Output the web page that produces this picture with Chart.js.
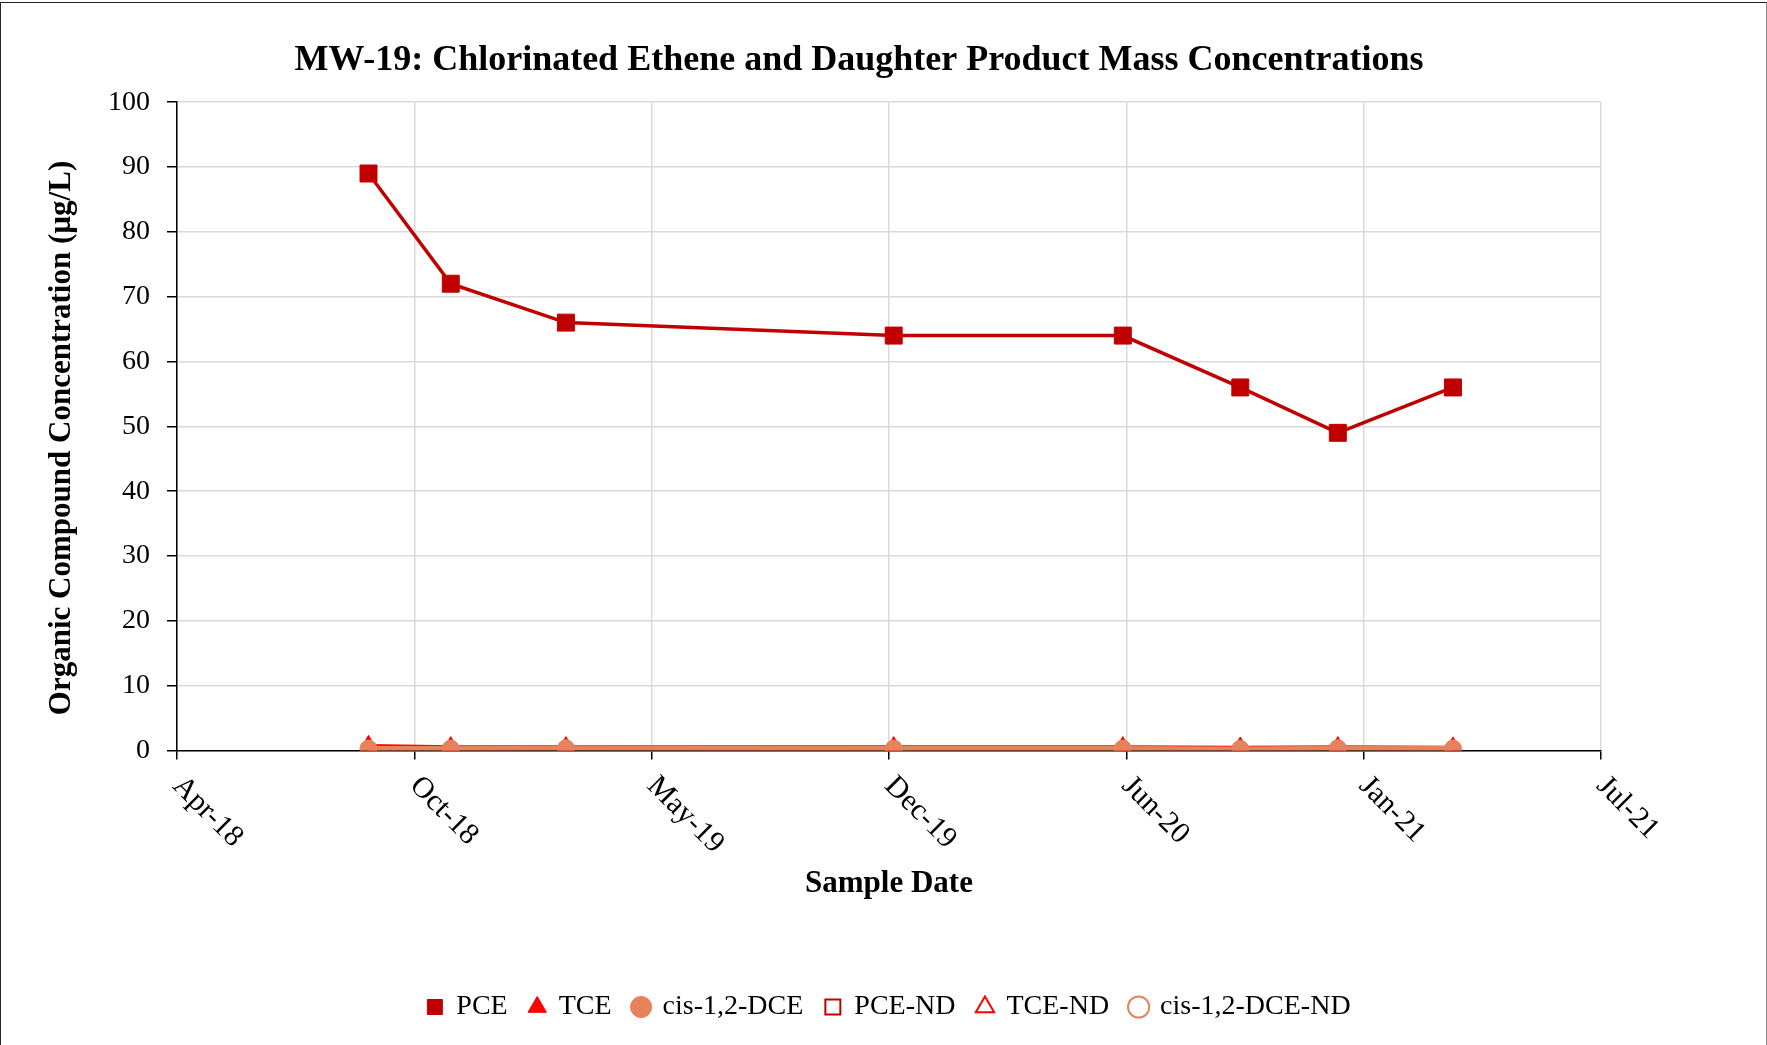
<!DOCTYPE html>
<html>
<head>
<meta charset="utf-8">
<script src="https://cdn.jsdelivr.net/npm/chart.js@4.4.1/dist/chart.umd.min.js"></script>
<style>
html, body { margin: 0; padding: 0; background: #fff; overflow: hidden; }
#frame { position: absolute; left: 0; top: 2px; width: 1767px; height: 1100px; box-sizing: border-box;
         border-left: 1.5px solid #222; border-top: 1.5px solid #222; border-right: 1.5px solid #888; }
#chart { position: absolute; left: 0; top: 0; }
</style>
</head>
<body>
<div id="frame"></div>
<canvas id="chart" width="1767" height="1045"></canvas>
<script>
// sample dates
const sampleDates = ['2018-09-15', '2018-11-24', '2019-03-02', '2019-12-06',
                     '2020-06-18', '2020-09-26', '2020-12-18', '2021-03-26'];
// concentrations, ug/L
const pce    = [89, 72, 66, 64, 64, 56, 49, 56];
const tce    = [0.8, 0.6, 0.6, 0.6, 0.6, 0.55, 0.6, 0.55];
const cisDce = [0.3, 0.3, 0.35, 0.3, 0.3, 0.25, 0.35, 0.3];
// non-detects: nothing plotted
const pceND = [];
const tceND = [];
const cisDceND = [];

// axis set-up (Excel style date axis)
const xAxisStart = '2018-04-05';
const xAxisStepDays = 202;
const xAxisSteps = 6;
const yMin = 0, yMax = 100, yStep = 10;

const months = ['Jan','Feb','Mar','Apr','May','Jun','Jul','Aug','Sep','Oct','Nov','Dec'];
const toDay = s => Date.parse(s + 'T00:00:00Z') / 864e5;
const fmtDay = d => {
    const dt = new Date(Math.round(d) * 864e5);
    return months[dt.getUTCMonth()] + '-' + String(dt.getUTCFullYear()).slice(2);
};
const pts = vals => vals.map((v, i) => ({ x: toDay(sampleDates[i]), y: v }));

const xMin = toDay(xAxisStart);
const xMax = xMin + xAxisStepDays * xAxisSteps;

const serif = '"Liberation Serif", "Times New Roman", serif';

// Excel-like rotated date labels, starting at the tick and running down-right
const dateLabels = {
    id: 'dateLabels',
    afterDraw(chart) {
        const xs = chart.scales.x;
        const ctx = chart.ctx;
        ctx.save();
        ctx.font = '30px ' + serif;
        ctx.fillStyle = '#000';
        ctx.textAlign = 'left';
        ctx.textBaseline = 'middle';
        xs.ticks.forEach(t => {
            const px = xs.getPixelForValue(t.value);
            ctx.save();
            ctx.translate(px, xs.top + 31);
            ctx.rotate(Math.PI / 4);
            ctx.fillText(fmtDay(t.value), 0, 0);
            ctx.restore();
        });
        ctx.restore();
    }
};

new Chart(document.getElementById('chart').getContext('2d'), {
    type: 'line',
    data: {
        datasets: [
            { label: 'PCE', data: pts(pce), order: 0,
              borderColor: '#C00000', backgroundColor: '#C00000', borderWidth: 3.5,
              pointStyle: 'rect', pointRadius: 12, pointBorderWidth: 1,
              pointBackgroundColor: '#C00000', pointBorderColor: '#C00000' },
            { label: 'TCE', data: pts(tce), order: 2,
              borderColor: '#FF0000', backgroundColor: '#FF0000', borderWidth: 2.5,
              pointStyle: 'triangle', pointRadius: 10, pointBorderWidth: 1,
              pointBackgroundColor: '#FF0000', pointBorderColor: '#FF0000' },
            { label: 'cis-1,2-DCE', data: pts(cisDce), order: 1,
              borderColor: '#E8825A', backgroundColor: '#E8825A', borderWidth: 5,
              pointStyle: 'circle', pointRadius: 8.5, pointBorderWidth: 1,
              pointBackgroundColor: '#E8825A', pointBorderColor: '#E8825A' },
            { label: 'PCE-ND', data: pceND, order: 3, showLine: false,
              borderColor: '#C00000', backgroundColor: '#fff', pointStyle: 'rect',
              pointRadius: 12, pointBorderWidth: 2,
              pointBackgroundColor: '#fff', pointBorderColor: '#C00000' },
            { label: 'TCE-ND', data: tceND, order: 4, showLine: false,
              borderColor: '#FF0000', backgroundColor: '#fff', pointStyle: 'triangle',
              pointRadius: 10, pointBorderWidth: 2,
              pointBackgroundColor: '#fff', pointBorderColor: '#FF0000' },
            { label: 'cis-1,2-DCE-ND', data: cisDceND, order: 5, showLine: false,
              borderColor: '#E8825A', backgroundColor: '#fff', pointStyle: 'circle',
              pointRadius: 8.5, pointBorderWidth: 2,
              pointBackgroundColor: '#fff', pointBorderColor: '#E8825A' }
        ]
    },
    options: {
        responsive: false,
        animation: false,
        devicePixelRatio: 1,
        layout: { padding: { left: 0, right: 49, top: 0, bottom: 14 } },
        plugins: {
            title: {
                display: true,
                text: 'MW-19: Chlorinated Ethene and Daughter Product Mass Concentrations',
                color: '#000',
                font: { family: serif, size: 36, weight: 'bold', lineHeight: 1.2 },
                padding: { top: 39, bottom: 20 }
            },
            legend: {
                position: 'bottom',
                fullSize: false,
                labels: {
                    usePointStyle: true,
                    boxWidth: 15, boxHeight: 15,
                    padding: 22,
                    color: '#000',
                    font: { family: serif, size: 28 },
                    sort: (a, b) => a.datasetIndex - b.datasetIndex
                }
            },
            tooltip: { enabled: false }
        },
        scales: {
            x: {
                type: 'linear',
                min: xMin, max: xMax,
                afterFit: s => { s.height = 220.5; },
                ticks: { stepSize: xAxisStepDays, display: false },
                grid: { color: '#D9D9D9', lineWidth: 1.5, tickColor: '#000', tickLength: 9 },
                border: { color: '#000', width: 1.5 },
                title: {
                    display: true, text: 'Sample Date', color: '#000',
                    font: { family: serif, size: 31, weight: 'bold', lineHeight: 1.2 },
                    padding: { top: 0, bottom: 68 }
                }
            },
            y: {
                min: yMin, max: yMax,
                afterFit: s => { s.width = 177; },
                ticks: { stepSize: yStep, color: '#000', padding: 17,
                         font: { family: serif, size: 28 } },
                grid: { color: '#D9D9D9', lineWidth: 1.5, tickColor: '#000', tickLength: 10 },
                border: { color: '#000', width: 1.5 },
                title: {
                    display: true,
                    // trailing spaces nudge the text down, as in the reference
                    text: 'Organic Compound Concentration (µg/L)\u00A0\u00A0\u00A0',
                    color: '#000',
                    font: { family: serif, size: 31, weight: 'bold', lineHeight: 1.2 },
                    padding: { top: 43, bottom: 0 }
                }
            },
            // empty spacer on the right so the plot ends where the reference's does
            spacer: {
                type: 'linear', position: 'right', display: true,
                afterFit: s => { s.width = 117; },
                grid: { display: false }, ticks: { display: false }, border: { display: false }
            }
        }
    },
    plugins: [dateLabels]
});
</script>
</body>
</html>
